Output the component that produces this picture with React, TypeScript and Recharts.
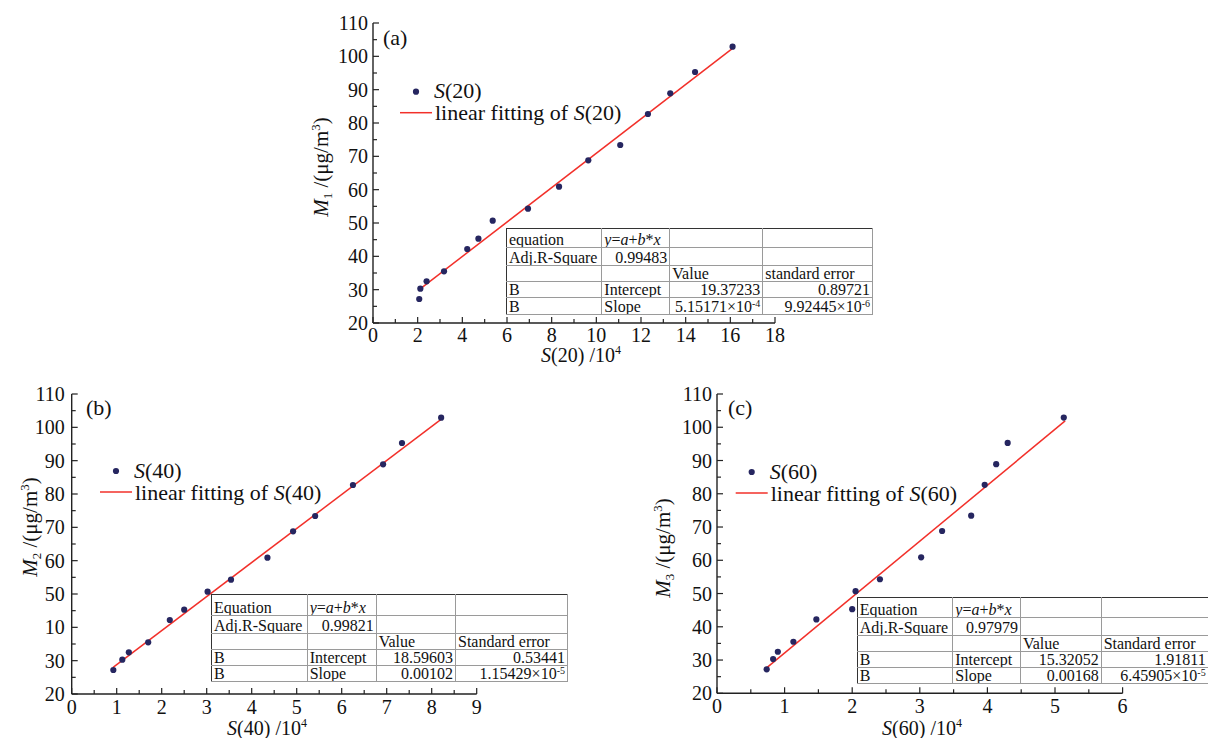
import React from 'react';
import { ScatterChart, Scatter, XAxis, YAxis } from 'recharts';

const FONT = '"Liberation Serif", "Times New Roman", serif';
const DOT = '#262660';
const RED = '#f2302a';
const AX = '#222';

// Mass concentration M (µg/m³) — same samples in all panels
const mValues = [27.2, 30.3, 32.5, 35.5, 42.2, 45.3, 50.7, 54.3, 60.9, 68.8, 73.4, 82.7, 88.9, 95.3, 102.9];
// S(20), S(40), S(60) in units of 10^4
const s20 = [2.07, 2.12, 2.4, 3.18, 4.22, 4.72, 5.36, 6.94, 8.33, 9.64, 11.07, 12.31, 13.31, 14.42, 16.1];
const s40 = [0.925, 1.125, 1.27, 1.7, 2.18, 2.5, 3.02, 3.54, 4.35, 4.92, 5.41, 6.25, 6.92, 7.34, 8.21];
const s60 = [0.735, 0.83, 0.9, 1.13, 1.47, 2.0, 2.05, 2.41, 3.02, 3.33, 3.76, 3.96, 4.13, 4.3, 5.13];

// linear fit endpoints (x, y)
const fitA = [{ x: 2.07, y: 30.0 }, { x: 16.1, y: 102.4 }];
const fitB = [{ x: 0.92, y: 28.0 }, { x: 8.2, y: 102.3 }];
const fitC = [{ x: 0.72, y: 27.4 }, { x: 5.15, y: 101.9 }];

// ticks
const yTicks = [20, 25, 30, 35, 40, 45, 50, 55, 60, 65, 70, 75, 80, 85, 90, 95, 100, 105, 110];
const yLabelsStd: Record<number, string> = { 20: '20', 30: '30', 40: '40', 50: '50', 60: '60', 70: '70', 80: '80', 90: '90', 100: '100', 110: '110' };
const yLabelsB: Record<number, string> = { 20: '20', 30: '30', 40: '10', 50: '50', 60: '60', 70: '70', 80: '80', 90: '90', 100: '100', 110: '110' };
const xTicksA = [0, 1, 2, 3, 4, 5, 6, 7, 8, 9, 10, 11, 12, 13, 14, 15, 16, 17, 18];
const xLabelsA = [0, 2, 4, 6, 8, 10, 12, 14, 16, 18];
const xTicksB = [0, 0.5, 1, 1.5, 2, 2.5, 3, 3.5, 4, 4.5, 5, 5.5, 6, 6.5, 7, 7.5, 8, 8.5, 9];
const xLabelsB = [0, 1, 2, 3, 4, 5, 6, 7, 8, 9];
const xTicksC = [0, 0.5, 1, 1.5, 2, 2.5, 3, 3.5, 4, 4.5, 5, 5.5, 6];
const xLabelsC = [0, 1, 2, 3, 4, 5, 6];

// fit tables
type Cell = string | { m: string; e: string } | 'EQ';
const tableA: Cell[][] = [
  ['equation', 'EQ', '', ''],
  ['Adj.R-Square', '0.99483', '', ''],
  ['', '', 'Value', 'standard error'],
  ['B', 'Intercept', '19.37233', '0.89721'],
  ['B', 'Slope', { m: '5.15171×10', e: '-4' }, { m: '9.92445×10', e: '-6' }],
];
const tableB: Cell[][] = [
  ['Equation', 'EQ', '', ''],
  ['Adj.R-Square', '0.99821', '', ''],
  ['', '', 'Value', 'Standard error'],
  ['B', 'Intercept', '18.59603', '0.53441'],
  ['B', 'Slope', '0.00102', { m: '1.15429×10', e: '-5' }],
];
const tableC: Cell[][] = [
  ['Equation', 'EQ', '', ''],
  ['Adj.R-Square', '0.97979', '', ''],
  ['', '', 'Value', 'Standard error'],
  ['B', 'Intercept', '15.32052', '1.91811'],
  ['B', 'Slope', '0.00168', { m: '6.45905×10', e: '-5' }],
];

const W = 1208;
const H = 738;

type Panel = {
  pts: { x: number; y: number }[];
  fit: { x: number; y: number }[];
  plot: { l: number; t: number; r: number; b: number };
  xMax: number;
  xTicks: number[];
  xLabels: number[];
  yLabels: Record<number, string>;
  xLabelDy: number;
  yLabelGap: number;
};

const mk = (s: number[]) => s.map((v, i) => ({ x: v, y: mValues[i] }));

const panels: Panel[] = [
  { pts: mk(s20), fit: fitA, plot: { l: 373, t: 23, r: 775, b: 323 }, xMax: 18, xTicks: xTicksA, xLabels: xLabelsA, yLabels: yLabelsStd, xLabelDy: 18.5, yLabelGap: 5 },
  { pts: mk(s40), fit: fitB, plot: { l: 71.7, t: 394, r: 476.7, b: 694 }, xMax: 9, xTicks: xTicksB, xLabels: xLabelsB, yLabels: yLabelsB, xLabelDy: 19.5, yLabelGap: 7 },
  { pts: mk(s60), fit: fitC, plot: { l: 717, t: 394, r: 1122.6, b: 693.3 }, xMax: 6, xTicks: xTicksC, xLabels: xLabelsC, yLabels: yLabelsStd, xLabelDy: 19.5, yLabelGap: 5 },
];

const YW = 40;
const XH = 40;

function Chart({ p }: { p: Panel }) {
  const margin = { top: p.plot.t, left: p.plot.l - YW, right: W - p.plot.r, bottom: H - p.plot.b - XH };
  const xTick = (props: any) => {
    const { x, y, payload } = props;
    const v = payload.value as number;
    const major = p.xLabels.includes(v);
    return (
      <g>
        <line x1={x} x2={x} y1={y} y2={y - (major ? 6 : 4)} stroke={AX} strokeWidth={1.2} />
        {major && (
          <text x={x} y={y + p.xLabelDy} textAnchor="middle" fontFamily={FONT} fontSize={20} fill="#111">
            {String(v)}
          </text>
        )}
      </g>
    );
  };
  const yTick = (props: any) => {
    const { x, y, payload } = props;
    const v = payload.value as number;
    const lab = p.yLabels[v];
    const major = lab !== undefined;
    return (
      <g>
        <line x1={x} x2={x + (major ? 6 : 4)} y1={y} y2={y} stroke={AX} strokeWidth={1.2} />
        {major && (
          <text x={x - p.yLabelGap} y={y + 7} textAnchor="end" fontFamily={FONT} fontSize={20} fill="#111">
            {lab}
          </text>
        )}
      </g>
    );
  };
  return (
    <div style={{ position: 'absolute', left: 0, top: 0 }}>
      <ScatterChart width={W} height={H} margin={margin}>
        <XAxis
          type="number"
          dataKey="x"
          domain={[0, p.xMax]}
          ticks={p.xTicks}
          interval={0}
          height={XH}
          tickSize={0}
          tickMargin={0}
          tickLine={false}
          tick={xTick}
          axisLine={{ stroke: AX, strokeWidth: 1.4 }}
          allowDataOverflow
        />
        <YAxis
          type="number"
          dataKey="y"
          domain={[20, 110]}
          ticks={yTicks}
          interval={0}
          width={YW}
          tickSize={0}
          tickMargin={0}
          tickLine={false}
          tick={yTick}
          axisLine={{ stroke: AX, strokeWidth: 1.4 }}
          allowDataOverflow
        />
        <Scatter
          data={p.fit}
          line={{ stroke: RED, strokeWidth: 1.5 }}
          shape={() => <g />}
          isAnimationActive={false}
        />
        <Scatter
          data={p.pts}
          shape={(sp: any) => <circle cx={sp.cx} cy={sp.cy} r={3.1} fill={DOT} />}
          isAnimationActive={false}
        />
      </ScatterChart>
    </div>
  );
}

function Eq() {
  return (
    <span>
      <i>y</i>=<i>a</i>+<i>b</i>*<i>x</i>
    </span>
  );
}

function FitTable({ rows, left, top, cols, heights }: { rows: Cell[][]; left: number; top: number; cols: number[]; heights: number[] }) {
  const isNum = (c: Cell) => typeof c !== 'string' || /^[0-9.]+$/.test(c);
  return (
    <table
      style={{
        position: 'absolute',
        left,
        top,
        borderCollapse: 'collapse',
        tableLayout: 'fixed',
        width: cols.reduce((a, b) => a + b, 0),
        border: '1.5px solid #333',
        background: '#fff',
        fontFamily: FONT,
        fontSize: 16,
        color: '#111',
      }}
    >
      <colgroup>
        {cols.map((w, i) => (
          <col key={i} style={{ width: w }} />
        ))}
      </colgroup>
      <tbody>
        {rows.map((r, i) => (
          <tr key={i} style={{ height: heights[i] }}>
            {r.map((c, j) => (
              <td
                key={j}
                style={{
                  border: '1px solid #9a9a9a',
                  borderTop: i === 0 ? '1.5px solid #333' : '1px solid #9a9a9a',
                  borderLeft: j === 0 ? '1.5px solid #333' : '1px solid #9a9a9a',
                  padding: '0 2px',
                  lineHeight: '15px',
                  verticalAlign: 'bottom',
                  textAlign: c === 'EQ' ? 'left' : isNum(c) && c !== '' ? 'right' : 'left',
                  whiteSpace: 'nowrap',
                  overflow: 'hidden',
                }}
              >
                {c === 'EQ' ? (
                  <Eq />
                ) : typeof c === 'string' ? (
                  c
                ) : (
                  <span>
                    {c.m}
                    <sup style={{ fontSize: 10, verticalAlign: 'top', lineHeight: '10px' }}>{c.e}</sup>
                  </span>
                )}
              </td>
            ))}
          </tr>
        ))}
      </tbody>
    </table>
  );
}

function YTitle({ x, y, sub }: { x: number; y: number; sub: string }) {
  return (
    <text x={x} y={y} transform={`rotate(-90 ${x} ${y})`} textAnchor="middle" fontFamily={FONT} fontSize={21} fill="#111">
      <tspan fontStyle="italic">M</tspan>
      <tspan fontSize={13} dy={4}>{sub}</tspan>
      <tspan dy={-4}> /(μg/m</tspan>
      <tspan fontSize={13} dy={-8}>3</tspan>
      <tspan dy={8}>)</tspan>
    </text>
  );
}

function XTitle({ x, y, n }: { x: number; y: number; n: string }) {
  return (
    <text x={x} y={y} textAnchor="middle" fontFamily={FONT} fontSize={20} fill="#111">
      <tspan fontStyle="italic">S</tspan>
      <tspan>({n}) /10</tspan>
      <tspan fontSize={12} dy={-8}>4</tspan>
    </text>
  );
}

function LegendBlock({ x, y, n }: { x: number; y: number; n: string }) {
  // x,y: position of the legend dot
  return (
    <g fontFamily={FONT} fontSize={22} fill="#111">
      <circle cx={x} cy={y} r={3.1} fill={DOT} />
      <text x={x + 18} y={y + 6.5}>
        <tspan fontStyle="italic">S</tspan>({n})
      </text>
      <line x1={x - 16} x2={x + 16} y1={y + 21} y2={y + 21} stroke={RED} strokeWidth={1.5} />
      <text x={x + 19} y={y + 28.5}>
        linear fitting of <tspan fontStyle="italic">S</tspan>({n})
      </text>
    </g>
  );
}

export default function App() {
  return (
    <div style={{ position: 'absolute', left: 0, top: 0, width: W, height: H, background: '#fff', overflow: 'hidden' }}>
      {panels.map((p, i) => (
        <Chart key={i} p={p} />
      ))}
      <svg width={W} height={H} style={{ position: 'absolute', left: 0, top: 0, pointerEvents: 'none' }}>
        <text x={383} y={45} fontFamily={FONT} fontSize={22} fill="#111">(a)</text>
        <text x={86} y={415} fontFamily={FONT} fontSize={22} fill="#111">(b)</text>
        <text x={728} y={415} fontFamily={FONT} fontSize={22} fill="#111">(c)</text>
        <YTitle x={328} y={167} sub="1" />
        <YTitle x={37} y={527} sub="2" />
        <YTitle x={670} y={548} sub="3" />
        <XTitle x={581} y={362} n="20" />
        <XTitle x={267} y={735} n="40" />
        <XTitle x={922} y={735} n="60" />
        <LegendBlock x={416} y={91.7} n="20" />
        <LegendBlock x={116} y={471} n="40" />
        <LegendBlock x={751.7} y={472} n="60" />
      </svg>
      <FitTable rows={tableA} left={506} top={227.7} cols={[95.3, 68, 93, 109.7]} heights={[19, 18.6, 15.7, 16, 16.7]} />
      <FitTable rows={tableB} left={211} top={594.3} cols={[95.7, 69, 79.3, 112]} heights={[20.7, 17.7, 15.6, 16, 16.7]} />
      <FitTable rows={tableC} left={856.7} top={597.3} cols={[95.6, 67.7, 80.7, 107]} heights={[19.4, 18.3, 15, 16, 15.7]} />
    </div>
  );
}
